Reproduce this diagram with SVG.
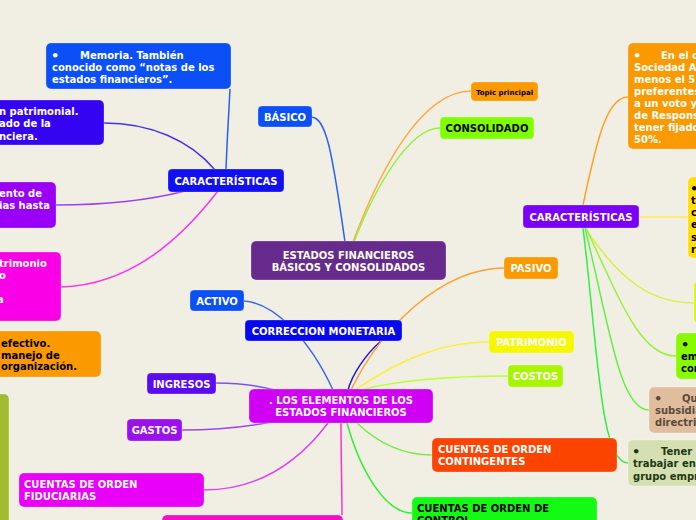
<svg xmlns="http://www.w3.org/2000/svg" width="696" height="520" viewBox="0 0 696 520">
<style>
text{font-family:"DejaVu Sans","Verdana",sans-serif;font-weight:bold;font-size:10px;fill:#fff}
.c{text-anchor:middle}
.k{fill:#000}
.b{font-size:13px}
.box{stroke:#ffffff;stroke-opacity:0.25;stroke-width:1}
.ln{fill:none;stroke-width:1.5}
</style>
<rect width="696" height="520" fill="#f1efe3"/>
<g id="connectors">
<path class="ln" stroke="#2b63ef" d="M311,117 C326,117 332,150 345,242"/>
<path class="ln" stroke="#ffaa44" d="M353,242 C378,175 420,91 471,91"/>
<path class="ln" stroke="#99ee44" d="M354,242 C376,185 410,128 440,128"/>
<path class="ln" stroke="#2a5ef0" d="M226,170 C227,140 229,110 230,89"/>
<path class="ln" stroke="#4a2ff0" d="M104,123 C150,123 190,140 215,170"/>
<path class="ln" stroke="#a040f0" d="M56,205 C110,205 150,200 185,191"/>
<path class="ln" stroke="#ff33ee" d="M61,287 C130,285 180,240 218,191"/>
<path class="ln" stroke="#3a6ae8" d="M244,301 C275,303 310,340 333,390"/>
<path class="ln" stroke="#1a1ad8" d="M381,341 C365,355 352,375 348,390"/>
<path class="ln" stroke="#ffa033" d="M351,390 C380,330 440,268 505,268"/>
<path class="ln" stroke="#ffee33" d="M355,390 C400,360 440,342 489,342"/>
<path class="ln" stroke="#bbff33" d="M360,390 C400,380 450,376 508,376"/>
<path class="ln" stroke="#7a55ee" d="M216,383 C240,383 260,386 275,390"/>
<path class="ln" stroke="#a045ee" d="M182,430 C220,430 250,426 272,422"/>
<path class="ln" stroke="#e040f0" d="M204,490 C260,490 300,460 328,423"/>
<path class="ln" stroke="#ff33cc" d="M341,423 C341,460 342,490 342,515"/>
<path class="ln" stroke="#77ee44" d="M357,423 C380,445 405,455 432,455"/>
<path class="ln" stroke="#33ee33" d="M347,423 C360,470 385,513 412,513"/>
<path class="ln" stroke="#ffa022" d="M583,205 C595,150 605,97 628,97"/>
<path class="ln" stroke="#ffe766" d="M639,217 L688,217"/>
<path class="ln" stroke="#d8f040" d="M585,228 C620,280 650,303 694,303"/>
<path class="ln" stroke="#99f040" d="M586,228 C620,300 640,356 676,356"/>
<path class="ln" stroke="#66f044" d="M585,228 C610,330 620,410 649,410"/>
<path class="ln" stroke="#33ee44" d="M583,228 C598,350 600,463 628,463"/>
</g>
<g id="root"><rect class="box" x="251" y="241" width="195" height="39" rx="5" fill="#662b8c"/>
<text class="c" x="348.5" y="259">ESTADOS FINANCIEROS</text><text class="c" x="348.5" y="271">BÁSICOS Y CONSOLIDADOS</text></g>
<g id="basico"><rect class="box" x="258" y="106" width="54" height="21" rx="4" fill="#0b50f6"/><text class="c" x="285" y="121">BÁSICO</text></g>
<g id="topic"><rect class="box" x="471" y="82" width="67" height="19" rx="4" fill="#fb9900"/><text class="c k" x="504.5" y="94.5" style="font-size:7px">Topic principal</text></g>
<g id="consolidado"><rect class="box" x="440" y="117" width="94" height="22" rx="4" fill="#7fff00"/><text class="c k" x="487" y="131.5">CONSOLIDADO</text></g>
<g id="caract-left"><rect class="box" x="168" y="169" width="116" height="23" rx="4" fill="#1010f0"/><text class="c" x="226" y="184.5">CARACTERÍSTICAS</text></g>
<g id="memoria"><rect class="box" x="46" y="43" width="185" height="46" rx="5" fill="#0b50f6"/>
<text class="b" x="51" y="60">•</text><text x="80" y="59">Memoria. También</text><text x="52" y="71">conocido como “notas de los</text><text x="52" y="83">estados financieros”.</text></g>
<g id="patrimonial"><rect class="box" x="-10" y="100" width="114" height="45" rx="5" fill="#3403f2"/>
<text x="-1" y="115">n patrimonial.</text><text x="-1" y="127">ado de la</text><text x="-1" y="139.5">nciera.</text></g>
<g id="purple-left"><rect class="box" x="-10" y="182" width="66" height="46" rx="5" fill="#9a00f5"/>
<text x="-1" y="197">ento de</text><text x="-1" y="209">ias hasta</text></g>
<g id="magenta-left"><rect class="box" x="-10" y="252" width="71" height="69" rx="5" fill="#fa00e6"/>
<text x="-1" y="267">trimonio</text><text x="-1" y="279">o</text><text x="-3" y="303">a</text></g>
<g id="orange-left"><rect class="box" x="-10" y="331" width="111" height="46" rx="5" fill="#fb9900"/>
<text class="k" x="1" y="347">efectivo.</text><text class="k" x="1" y="358.5">manejo de</text><text class="k" x="1" y="370">organización.</text></g>
<g id="olive-left"><rect class="box" x="-10" y="394" width="19" height="140" rx="5" fill="#a2bb30"/></g>
<g id="activo"><rect class="box" x="190" y="290" width="54" height="21" rx="4" fill="#0b50f6"/><text class="c" x="217" y="305">ACTIVO</text></g>
<g id="correccion"><rect class="box" x="245" y="320" width="157" height="21" rx="4" fill="#0808f0"/><text class="c" x="323.5" y="334.5">CORRECCION MONETARIA</text></g>
<g id="elementos"><rect class="box" x="249" y="389" width="184" height="34" rx="5" fill="#d000f5"/>
<text class="c" x="341" y="404">. LOS ELEMENTOS DE LOS</text><text class="c" x="341" y="416">ESTADOS FINANCIEROS</text></g>
<g id="ingresos"><rect class="box" x="147" y="373" width="69" height="21" rx="4" fill="#5a0bf0"/><text class="c" x="181.5" y="387.5">INGRESOS</text></g>
<g id="gastos"><rect class="box" x="127" y="419" width="55" height="22" rx="4" fill="#9b11ee"/><text class="c" x="154.5" y="434">GASTOS</text></g>
<g id="fiduciarias"><rect class="box" x="19" y="473" width="185" height="34" rx="5" fill="#e800f8"/>
<text x="24" y="488">CUENTAS DE ORDEN</text><text x="24" y="500">FIDUCIARIAS</text></g>
<g id="bottom-pink"><rect class="box" x="162" y="515" width="181" height="20" rx="5" fill="#f010c8"/></g>
<g id="pasivo"><rect class="box" x="504" y="257" width="54" height="22" rx="4" fill="#fb9900"/><text class="c" x="531" y="272">PASIVO</text></g>
<g id="patrimonio"><rect class="box" x="489" y="331" width="85" height="22" rx="4" fill="#f7f700"/><text class="c" x="531.5" y="346">PATRIMONIO</text></g>
<g id="costos"><rect class="box" x="508" y="365" width="55" height="22" rx="4" fill="#a8f500"/><text class="c" x="535.5" y="380">COSTOS</text></g>
<g id="contingentes"><rect class="box" x="432" y="438" width="185" height="34" rx="5" fill="#fb4400"/>
<text x="438" y="453">CUENTAS DE ORDEN</text><text x="438" y="465">CONTINGENTES</text></g>
<g id="control"><rect class="box" x="412" y="497" width="185" height="40" rx="5" fill="#13fb13"/>
<text class="k" x="417" y="512">CUENTAS DE ORDEN DE</text><text class="k" x="417" y="524">CONTROL</text></g>
<g id="caract-right"><rect class="box" x="523" y="205" width="116" height="23" rx="4" fill="#7a00f7"/><text class="c" x="581" y="220.5">CARACTERÍSTICAS</text></g>
<g id="orange-right"><rect class="box" x="628" y="43" width="80" height="106" rx="5" fill="#fb9900"/>
<text class="b" x="633" y="60">•</text><text x="661" y="59">En el c</text>
<text x="634" y="71">Sociedad A</text><text x="634" y="83">menos el 5</text><text x="634" y="95">preferentes</text><text x="634" y="107">a un voto y</text><text x="634" y="119">de Respons</text><text x="634" y="131">tener fijado</text><text x="634" y="142.5">50%.</text></g>
<g id="yellow-right"><rect class="box" x="688" y="177" width="20" height="81" rx="5" fill="#ffde00"/>
<text class="k b" x="690" y="193">•</text><text class="k" x="691" y="204">t</text><text class="k" x="691" y="216">c</text><text class="k" x="691" y="228">e</text><text class="k" x="691" y="241">s</text><text class="k" x="691" y="253">r</text></g>
<g id="yellowgreen-right"><rect class="box" x="694" y="282" width="20" height="41" rx="4" fill="#d8f800"/></g>
<g id="green-right"><rect class="box" x="676" y="333" width="30" height="46" rx="5" fill="#88fb00"/>
<text class="k b" x="681" y="349">•</text><text class="k" x="681" y="360">em</text><text class="k" x="681" y="372">cor</text></g>
<g id="tan-right"><rect class="box" x="649" y="387" width="57" height="46" rx="5" fill="#e0bd9d"/>
<text class="b" x="654" y="403" style="fill:#5b4a3b">•</text><text x="682" y="402" style="fill:#5b4a3b">Qu</text><text x="655" y="414" style="fill:#5b4a3b">subsidia</text><text x="655" y="426" style="fill:#5b4a3b">directriz</text></g>
<g id="lightgreen-right"><rect class="box" x="628" y="440" width="78" height="46" rx="5" fill="#d5dfb2"/>
<text class="b" x="632" y="456" style="fill:#1c3a12">•</text><text x="661" y="455" style="fill:#1c3a12">Tener</text><text x="633" y="467" style="fill:#1c3a12">trabajar en</text><text x="633" y="480" style="fill:#1c3a12">grupo empr</text></g>
</svg>
